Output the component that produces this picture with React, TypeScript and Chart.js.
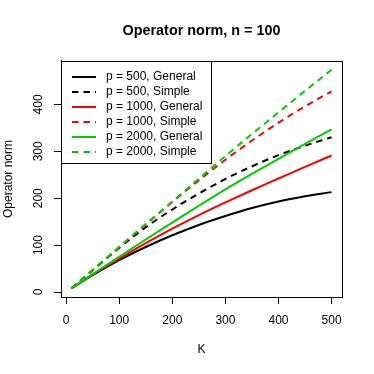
import React, { useEffect, useRef } from "react";
import { Chart, registerables } from "chart.js";

Chart.register(...registerables);

// ---- data ----
const K = [10, 50, 100, 150, 200, 250, 300, 350, 400, 450, 500];
const p500General = [8, 36, 68, 96, 121, 143, 162, 179, 193, 204, 213];
const p500Simple = [8, 46, 94, 138, 176, 210, 241, 268, 292, 312, 330];
const p1000General = [8, 37, 71, 104, 135, 164, 191, 217, 242, 267, 291];
const p1000Simple = [8, 47, 96, 144, 192, 238, 282, 323, 361, 396, 428];
const p2000General = [8, 38, 75, 112, 148, 184, 219, 252, 284, 316, 347];
const p2000Simple = [8, 47, 96, 145, 193, 242, 290, 337, 383, 429, 474];

const xTicks = [0, 100, 200, 300, 400, 500];
const yTicks = [0, 100, 200, 300, 400];

const seriesLabels = [
  "p = 500, General",
  "p = 500, Simple",
  "p = 1000, General",
  "p = 1000, Simple",
  "p = 2000, General",
  "p = 2000, Simple",
];
const seriesValues = [p500General, p500Simple, p1000General, p1000Simple, p2000General, p2000Simple];
const seriesColors = ["#000000", "#000000", "#FF0000", "#FF0000", "#00CD00", "#00CD00"];
const seriesDashed = [false, true, false, true, false, true];

const titleText = "Operator norm, n = 100";
const xTitle = "K";
const yTitle = "Operator norm";

const FONT = "'Liberation Sans', Arial, Helvetica, sans-serif";
const DASH = [6.5, 5];

// R-style axis range (4% extension)
function rRange(vals: number[]) {
  const mn = Math.min(...vals);
  const mx = Math.max(...vals);
  const d = (mx - mn) * 0.04;
  return [mn - d, mx + d];
}

const legendPlugin = {
  id: "rLegendBox",
  afterDraw(chart: any) {
    const ctx = chart.ctx;
    const a = chart.chartArea;
    ctx.save();
    // legend box
    const lx = Math.round(a.left) + 0.5;
    const ly = Math.round(a.top) + 0.5;
    const lw = 150;
    const lh = 102;
    ctx.fillStyle = "#ffffff";
    ctx.fillRect(lx, ly, lw, lh);
    ctx.strokeStyle = "#000000";
    ctx.lineWidth = 1;
    ctx.setLineDash([]);
    ctx.strokeRect(lx, ly, lw, lh);
    ctx.font = "12px " + FONT;
    ctx.textBaseline = "middle";
    ctx.textAlign = "left";
    for (let i = 0; i < seriesLabels.length; i++) {
      const y = ly + 15.5 + i * 15;
      ctx.beginPath();
      ctx.strokeStyle = seriesColors[i];
      ctx.lineWidth = 2;
      ctx.setLineDash(seriesDashed[i] ? DASH : []);
      ctx.moveTo(lx + 10.5, y);
      ctx.lineTo(lx + 34.5, y);
      ctx.stroke();
      ctx.fillStyle = "#000000";
      ctx.fillText(seriesLabels[i], lx + 44.5, y);
    }
    ctx.setLineDash([]);
    // plot box
    ctx.strokeStyle = "#000000";
    ctx.lineWidth = 1;
    ctx.strokeRect(
      Math.round(a.left) + 0.5,
      Math.round(a.top) + 0.5,
      Math.round(a.right) - Math.round(a.left),
      Math.round(a.bottom) - Math.round(a.top)
    );
    ctx.restore();
  },
};

export default function App() {
  const ref = useRef<HTMLCanvasElement | null>(null);

  useEffect(() => {
    if (!ref.current) return;
    const [xmin, xmax] = rRange(K);
    const [ymin, ymax] = rRange(seriesValues.flat());

    const datasets = seriesLabels.map((label, i) => ({
      label,
      data: K.map((k, j) => ({ x: k, y: seriesValues[i][j] })),
      borderColor: seriesColors[i],
      backgroundColor: seriesColors[i],
      borderWidth: 2,
      borderDash: seriesDashed[i] ? DASH : [],
      pointRadius: 0,
      fill: false,
      cubicInterpolationMode: "monotone" as const,
      order: seriesLabels.length - i,
    }));

    const chart = new Chart(ref.current, {
      type: "line",
      data: { datasets },
      options: {
        animation: false,
        responsive: false,
        devicePixelRatio: 1,
        layout: { padding: { left: 0, right: 32, top: 0, bottom: 0 } },
        plugins: {
          legend: { display: false },
          tooltip: { enabled: false },
          title: {
            display: true,
            text: titleText,
            fullSize: false,
            color: "#000000",
            font: { family: FONT, size: 14.4, weight: "bold" },
            padding: { top: 22.4, bottom: 21.3 },
          },
        },
        scales: {
          x: {
            type: "linear",
            min: xmin,
            max: xmax,
            afterBuildTicks: (s: any) => {
              s.ticks = xTicks.map((v) => ({ value: v }));
            },
            afterFit: (s: any) => {
              s.height = 77;
            },
            ticks: {
              color: "#000000",
              font: { family: FONT, size: 12 },
              padding: 9.3,
              maxRotation: 0,
              autoSkip: false,
            },
            grid: {
              drawOnChartArea: false,
              drawTicks: true,
              tickLength: 7,
              color: "#000000",
              lineWidth: 1,
            },
            border: { display: true, color: "#000000", width: 1 },
            title: {
              display: true,
              text: xTitle,
              color: "#000000",
              font: { family: FONT, size: 12 },
              padding: { top: 0, bottom: 17 },
            },
          },
          y: {
            type: "linear",
            min: ymin,
            max: ymax,
            afterBuildTicks: (s: any) => {
              s.ticks = yTicks.map((v) => ({ value: v }));
            },
            afterFit: (s: any) => {
              s.width = 61;
            },
            ticks: {
              color: "#000000",
              font: { family: FONT, size: 12 },
              padding: 5,
              minRotation: 90,
              maxRotation: 90,
              crossAlign: "center",
              autoSkip: false,
            },
            grid: {
              drawOnChartArea: false,
              drawTicks: true,
              tickLength: 7,
              color: "#000000",
              lineWidth: 1,
            },
            border: { display: true, color: "#000000", width: 1 },
            title: {
              display: true,
              text: yTitle,
              color: "#000000",
              font: { family: FONT, size: 12 },
              padding: { top: 1.6, bottom: 0 },
            },
          },
        },
      },
      plugins: [legendPlugin],
    } as any);

    return () => chart.destroy();
  }, []);

  return (
    <div style={{ position: "absolute", left: 0, top: 0, width: 374, height: 374, background: "#fff" }}>
      <canvas ref={ref} width={374} height={374} style={{ display: "block" }} />
    </div>
  );
}
